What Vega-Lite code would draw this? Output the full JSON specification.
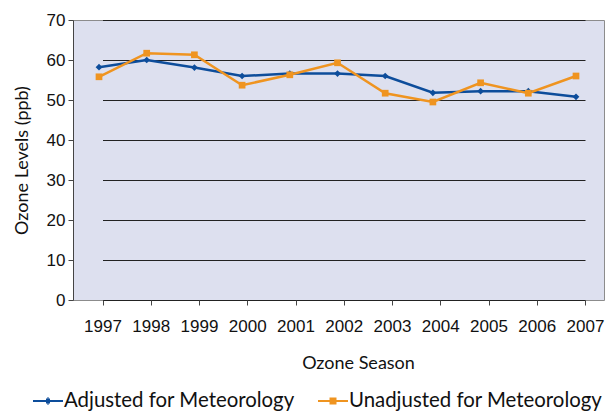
{
  "$schema": "https://vega.github.io/schema/vega-lite/v6.json",
  "width": 531,
  "height": 280,
  "autosize": {"type": "none"},
  "padding": {"left": 73, "top": 20, "right": 1, "bottom": 111},
  "config": {
    "view": {"fill": "#dde0ef", "stroke": "#8c8c8c", "strokeWidth": 1},
    "font": "Liberation Sans",
    "legend": {
      "title": null, "orient": "none", "padding": 0, "direction": "horizontal",
      "labelFont": "Lato", "labelFontSize": 20.4, "labelColor": "#111", "labelOffset": 0, "labelLimit": 400,
      "symbolSize": 900, "symbolStrokeWidth": 2, "symbolOpacity": 1
    }
  },
  "data": {
    "values": [
      {"year": "1997", "series": "Adjusted for Meteorology", "value": 58.2},
      {"year": "1998", "series": "Adjusted for Meteorology", "value": 60.0},
      {"year": "1999", "series": "Adjusted for Meteorology", "value": 58.1},
      {"year": "2000", "series": "Adjusted for Meteorology", "value": 56.0},
      {"year": "2001", "series": "Adjusted for Meteorology", "value": 56.6},
      {"year": "2002", "series": "Adjusted for Meteorology", "value": 56.6},
      {"year": "2003", "series": "Adjusted for Meteorology", "value": 56.0},
      {"year": "2004", "series": "Adjusted for Meteorology", "value": 51.8},
      {"year": "2005", "series": "Adjusted for Meteorology", "value": 52.2},
      {"year": "2006", "series": "Adjusted for Meteorology", "value": 52.2},
      {"year": "2007", "series": "Adjusted for Meteorology", "value": 50.8},
      {"year": "1997", "series": "Unadjusted for Meteorology", "value": 55.8},
      {"year": "1998", "series": "Unadjusted for Meteorology", "value": 61.7},
      {"year": "1999", "series": "Unadjusted for Meteorology", "value": 61.3},
      {"year": "2000", "series": "Unadjusted for Meteorology", "value": 53.7},
      {"year": "2001", "series": "Unadjusted for Meteorology", "value": 56.3},
      {"year": "2002", "series": "Unadjusted for Meteorology", "value": 59.3},
      {"year": "2003", "series": "Unadjusted for Meteorology", "value": 51.7},
      {"year": "2004", "series": "Unadjusted for Meteorology", "value": 49.5},
      {"year": "2005", "series": "Unadjusted for Meteorology", "value": 54.3},
      {"year": "2006", "series": "Unadjusted for Meteorology", "value": 51.7},
      {"year": "2007", "series": "Unadjusted for Meteorology", "value": 56.0}
    ]
  },
  "encoding": {
    "y": {
      "field": "value", "type": "quantitative",
      "scale": {"domain": [0, 70], "nice": false},
      "axis": {
        "title": "Ozone Levels (ppb)",
        "titleFont": "Lato", "titleFontSize": 18, "titleFontWeight": "normal", "titleColor": "#111",
        "titlePadding": 15,
        "values": [0, 10, 20, 30, 40, 50, 60, 70], "labelOverlap": false,
        "grid": true, "gridColor": "#222", "gridOpacity": 1, "gridWidth": 1,
        "domainColor": "#444", "tickColor": "#444", "tickSize": 5,
        "labelFontSize": 17, "labelColor": "#111", "labelPadding": 3
      }
    }
  },
  "layer": [
    {
      "mark": {"type": "point", "opacity": 0},
      "encoding": {
        "x": {
          "field": "year", "type": "ordinal",
          "scale": {"type": "point", "range": [29.5, 512], "padding": 0},
          "axis": {
            "title": "Ozone Season",
            "titleFont": "Lato", "titleFontSize": 18, "titleFontWeight": "normal", "titleColor": "#111",
            "titlePadding": 20, "titleX": 285,
            "labelFontSize": 17, "labelColor": "#111", "labelPadding": 13, "labelAngle": 0,
            "tickSize": 5, "tickColor": "#444", "domain": false, "grid": false
          }
        }
      }
    },
    {
      "mark": {"type": "line", "strokeWidth": 2.5},
      "encoding": {
        "x": {"field": "year", "type": "ordinal", "scale": {"type": "point", "range": [26, 503], "padding": 0}, "axis": null},
        "color": {
          "field": "series", "type": "nominal",
          "scale": {"domain": ["Adjusted for Meteorology", "Unadjusted for Meteorology"], "range": ["#0d4d9b", "#ef9420"]},
          "legend": null
        }
      }
    },
    {
      "mark": {"type": "point", "filled": true, "opacity": 1, "size": 45},
      "encoding": {
        "x": {"field": "year", "type": "ordinal", "scale": {"type": "point", "range": [26, 503], "padding": 0}, "axis": null},
        "color": {"field": "series", "type": "nominal", "legend": null},
        "shape": {
          "field": "series", "type": "nominal",
          "scale": {"domain": ["Adjusted for Meteorology", "Unadjusted for Meteorology"], "range": ["diamond", "square"]},
          "legend": null
        }
      }
    },
    {
      "transform": [{"filter": "datum.value < 0"}],
      "mark": {"type": "point", "filled": false, "strokeWidth": 2, "color": "#0d4d9b"},
      "encoding": {
        "x": {"field": "year", "type": "ordinal", "scale": {"type": "point", "range": [26, 503], "padding": 0}, "axis": null},
        "shape": {
          "field": "series", "type": "nominal",
          "scale": {
            "domain": ["Adjusted for Meteorology"],
            "range": ["M-1,0H1M-0.033,-0.2H0.033M-0.133,-0.1H0.133M-0.133,0.1H0.133M-0.033,0.2H0.033"]
          },
          "legend": {"legendX": -41, "legendY": 365}
        }
      }
    },
    {
      "transform": [{"filter": "datum.value < 0"}],
      "mark": {"type": "point", "filled": false, "strokeWidth": 2, "color": "#ef9420"},
      "encoding": {
        "x": {"field": "year", "type": "ordinal", "scale": {"type": "point", "range": [26, 503], "padding": 0}, "axis": null},
        "shape": {
          "field": "series", "type": "nominal",
          "scale": {
            "domain": ["Unadjusted for Meteorology"],
            "range": ["M-1,0H1M-0.233,-0.167H0.233M-0.233,-0.083H0.233M-0.233,0.083H0.233M-0.233,0.167H0.233"]
          },
          "legend": {"legendX": 244, "legendY": 365}
        }
      }
    }
  ],
  "resolve": {"scale": {"x": "independent", "shape": "independent"}}
}
